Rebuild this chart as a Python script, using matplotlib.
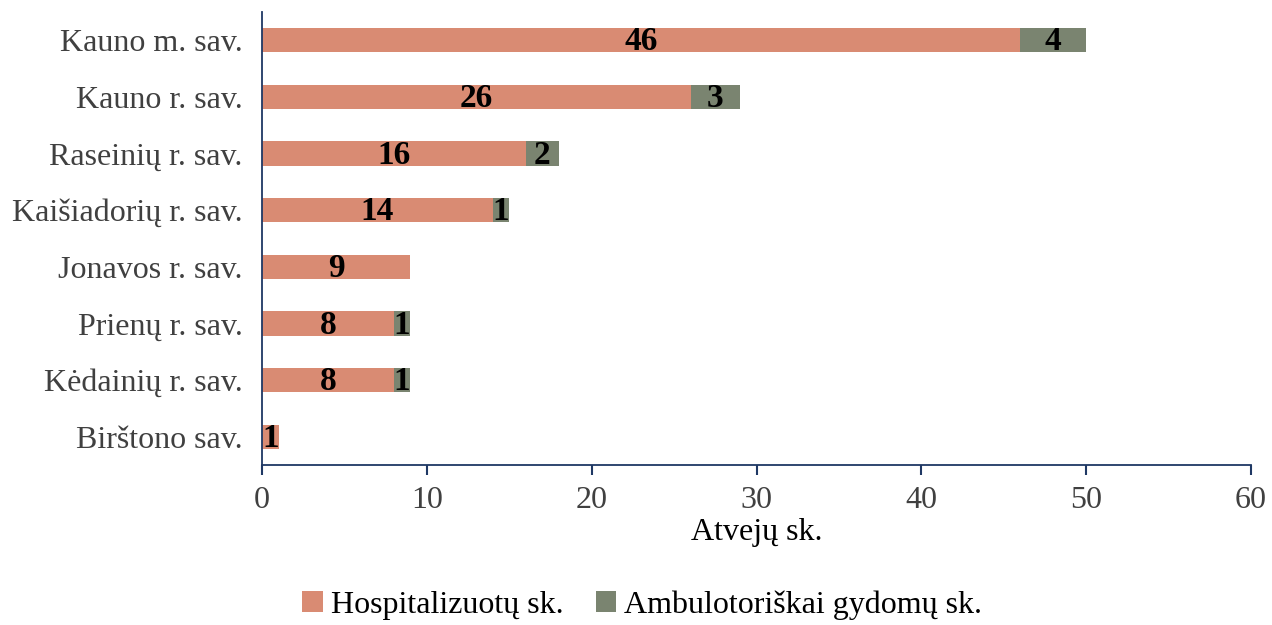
import matplotlib
matplotlib.use("Agg")
from matplotlib import pyplot as plt
import numpy as np

plt.rcParams['font.family'] = ['Liberation Serif', 'DejaVu Serif']

# savivaldybes, is virsaus i apacia
regions = ["Kauno m. sav.", "Kauno r. sav.", "Raseinių r. sav.",
           "Kaišiadorių r. sav.", "Jonavos r. sav.", "Prienų r. sav.",
           "Kėdainių r. sav.", "Birštono sav."]
hosp = [46, 26, 16, 14, 9, 8, 8, 1]
ambul = [4, 3, 2, 1, 0, 1, 1, 0]

c_hosp = "#D98B73"
c_amb = "#7A8470"
axis_col = "#1F3864"
txt_col = "#404040"

fig = plt.figure(figsize=(12.72, 6.25), dpi=100)
ax = fig.add_axes([0.206, 0.256, 0.7775, 0.725])

y = np.arange(len(regions))
b1 = ax.barh(y, hosp, height=0.43, color=c_hosp, label="Hospitalizuotų sk.")
b2 = ax.barh(y, ambul, left=hosp, height=0.43, color=c_amb, label="Ambulotoriškai gydomų sk.")

for i in range(len(regions)):
    ax.text(hosp[i] / 2, y[i] + 0.03, str(hosp[i]), ha="center", va="center",
            fontsize=24, fontweight="bold", color="black")
    if ambul[i] > 0:
        ax.text(hosp[i] + ambul[i] / 2, y[i] + 0.03, str(ambul[i]), ha="center", va="center",
                fontsize=24, fontweight="bold", color="black")

ax.set_xlim(0, 60)
ax.set_ylim(len(regions) - 0.5, -0.5)
ax.set_xticks(range(0, 61, 10))
ax.set_yticks(y)
ax.set_yticklabels(regions)
ax.tick_params(axis="y", length=0, labelsize=23, labelcolor=txt_col, pad=14)
ax.tick_params(axis="x", length=7, width=1.5, color=axis_col, labelsize=23,
               labelcolor=txt_col, direction="out", pad=8)
for s in ["top", "right"]:
    ax.spines[s].set_visible(False)
for s in ["left", "bottom"]:
    ax.spines[s].set_color(axis_col)
    ax.spines[s].set_linewidth(1.3)

ax.set_xlabel("Atvejų sk.", fontsize=23, color="black", labelpad=2)

fig.legend(handles=[b1, b2], loc="center", bbox_to_anchor=(0.505, 0.032), ncol=2,
           frameon=False, fontsize=23, handlelength=0.65, handleheight=0.65,
           handletextpad=0.25, columnspacing=1.0, labelcolor="black")

fig.savefig("out.png", dpi=100)
